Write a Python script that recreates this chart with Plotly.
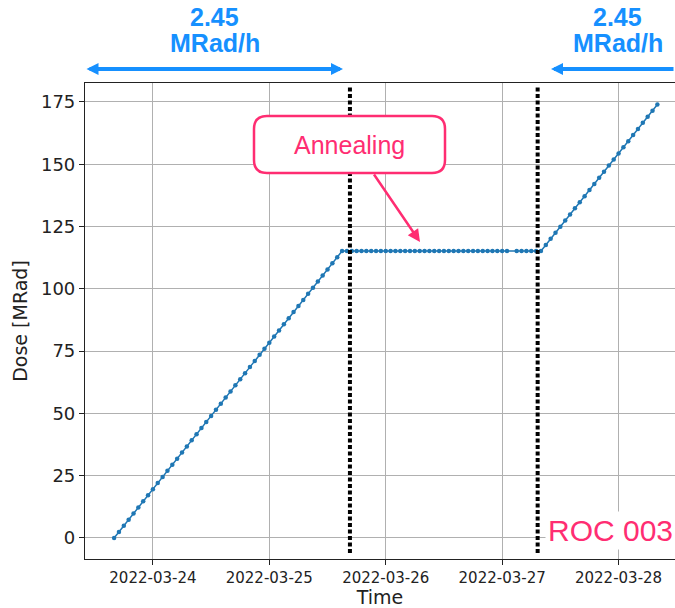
import pandas as pd
import plotly.graph_objects as go

# Irradiation log: hours elapsed since the start of the run and accumulated dose
run_start = "2022-03-23 16:00"
hours = [
    0, 1, 2, 3, 4, 5, 6, 7, 8, 9, 10, 11, 12, 13, 14, 15, 16, 17, 18, 19,
    20, 21, 22, 23, 24, 25, 26, 27, 28, 29, 30, 31, 32, 33, 34, 35, 36, 37,
    38, 39, 40, 41, 42, 43, 44, 45, 46, 47,
    48, 49, 50, 51, 52, 53, 54, 55, 56, 57, 58, 59, 60, 61, 62, 63, 64, 65,
    66, 67, 68, 69, 70, 71, 72, 73, 74, 75, 76, 77, 78, 79, 80, 81, 83, 84,
    85, 86, 87, 88,
    89, 90, 91, 92, 93, 94, 95, 96, 97, 98, 99, 100, 101, 102, 103, 104,
    105, 106, 107, 108, 109, 110, 111, 112,
]
dose_mrad = [
    0.0, 2.45, 4.9, 7.35, 9.8, 12.25, 14.7, 17.15, 19.6, 22.05, 24.5, 26.95,
    29.4, 31.85, 34.3, 36.75, 39.2, 41.65, 44.1, 46.55, 49.0, 51.45, 53.9,
    56.35, 58.8, 61.25, 63.7, 66.15, 68.6, 71.05, 73.5, 75.95, 78.4, 80.85,
    83.3, 85.75, 88.2, 90.65, 93.1, 95.55, 98.0, 100.45, 102.9, 105.35, 107.8,
    110.25, 112.7, 115.15,
    115.15, 115.15, 115.15, 115.15, 115.15, 115.15, 115.15, 115.15, 115.15,
    115.15, 115.15, 115.15, 115.15, 115.15, 115.15, 115.15, 115.15, 115.15,
    115.15, 115.15, 115.15, 115.15, 115.15, 115.15, 115.15, 115.15, 115.15,
    115.15, 115.15, 115.15, 115.15, 115.15, 115.15, 115.15, 115.15, 115.15,
    115.15, 115.15, 115.15, 115.15,
    117.6, 120.05, 122.5, 124.95, 127.4, 129.85, 132.3, 134.75, 137.2, 139.65,
    142.1, 144.55, 147.0, 149.45, 151.9, 154.35, 156.8, 159.25, 161.7, 164.15,
    166.6, 169.05, 171.5, 173.95,
]
annealing_bounds = ["2022-03-25 16:37", "2022-03-27 07:19"]
rate_label = ["2.45", "MRad/h"]
y_ticks = [0, 25, 50, 75, 100, 125, 150, 175]

times = pd.Timestamp(run_start) + pd.to_timedelta(hours, unit="h")

BLUE = "#1690FF"
PINK = "#FF2D72"
W, H = 675, 608
L, R, T, B = 85, 0, 83, 49


def px(x):
    return (x - L) / (W - L - R)


def py(y):
    return (H - B - y) / (H - T - B)


fig = go.Figure()
fig.add_trace(go.Scatter(
    x=times, y=dose_mrad, mode="lines+markers",
    line=dict(color="#1f77b4", width=1.5),
    marker=dict(color="#1f77b4", size=4.5),
    showlegend=False,
))

shapes = []
for t in annealing_bounds:
    shapes.append(dict(
        type="line", xref="x", yref="paper", x0=t, x1=t,
        y0=py(553), y1=py(86),
        line=dict(color="black", width=4, dash="4px,2.5px"), layer="above",
    ))

# rounded call-out box
x0, x1, y0, y1, r = 254, 445, 116, 173, 13
rx = r / (W - L - R)
ry = r / (H - T - B)
X0, X1, Y0, Y1 = px(x0), px(x1), py(y0), py(y1)
path = (
    f"M{X0 + rx},{Y0} L{X1 - rx},{Y0} Q{X1},{Y0} {X1},{Y0 - ry} "
    f"L{X1},{Y1 + ry} Q{X1},{Y1} {X1 - rx},{Y1} L{X0 + rx},{Y1} "
    f"Q{X0},{Y1} {X0},{Y1 + ry} L{X0},{Y0 - ry} Q{X0},{Y0} {X0 + rx},{Y0} Z"
)
shapes.append(dict(
    type="path", xref="paper", yref="paper", path=path,
    fillcolor="white", line=dict(color=PINK, width=2.5), layer="above",
))


def label(x, y, text, size, color, **kw):
    return dict(xref="paper", yref="paper", x=px(x), y=py(y), text=text,
                xanchor="center", yanchor="middle", showarrow=False,
                font=dict(family="Liberation Sans", size=size, color=color), **kw)


annotations = [
    # call-out text and pointer
    label(349.5, 145, "Annealing", 25, PINK),
    dict(xref="paper", yref="paper", x=px(420), y=py(242), text="",
         showarrow=True, ax=-47, ay=-69, arrowhead=2, arrowsize=1,
         arrowwidth=2.5, arrowcolor=PINK),
    # dose-rate arrows
    dict(xref="paper", yref="paper", x=px(343), y=py(69), text="",
         showarrow=True, ax=-258, ay=0, arrowside="end+start", arrowhead=2,
         arrowsize=0.6, arrowwidth=4, arrowcolor=BLUE),
    dict(xref="paper", yref="paper", x=px(551), y=py(69), text="",
         showarrow=True, ax=160, ay=0, arrowside="end", arrowhead=2,
         arrowsize=0.6, arrowwidth=4, arrowcolor=BLUE),
    # sample label
    label(610, 530, "ROC 003", 30, PINK, bgcolor="white", borderpad=2),
]
for cx in (214.5, 617.5):
    annotations.append(label(cx, 17, f"<b>{rate_label[0]}</b>", 25, BLUE))
    annotations.append(label(cx, 43, f"<b>{rate_label[1]}</b>", 25, BLUE))

fig.update_layout(
    width=W, height=H,
    margin=dict(l=L, r=R, t=T, b=B),
    paper_bgcolor="white", plot_bgcolor="white",
    shapes=shapes, annotations=annotations,
    font=dict(family="DejaVu Sans", color="#222222"),
    xaxis=dict(
        range=["2022-03-23 10:00", "2022-03-28 11:38"],
        tick0="2022-03-24", dtick=86400000, tickformat="%Y-%m-%d",
        showline=True, linecolor="#222222", linewidth=1.2, mirror=True,
        showgrid=True, gridcolor="#b0b0b0", gridwidth=1,
        ticks="outside", ticklen=5, tickcolor="#222222",
        tickfont=dict(size=15, color="#222222"),
        title=dict(text="Time", font=dict(size=19, color="#222222"), standoff=3),
        zeroline=False,
    ),
    yaxis=dict(
        range=[-8.43, 182.6], tickvals=y_ticks,
        showline=True, linecolor="#222222", linewidth=1.2, mirror=False,
        showgrid=True, gridcolor="#b0b0b0", gridwidth=1,
        ticks="outside", ticklen=5, tickcolor="#222222",
        tickfont=dict(size=18, color="#222222"),
        title=dict(text="Dose [MRad]", font=dict(size=19, color="#222222"), standoff=8),
        zeroline=False,
    ),
)

fig.write_html("out.html")
